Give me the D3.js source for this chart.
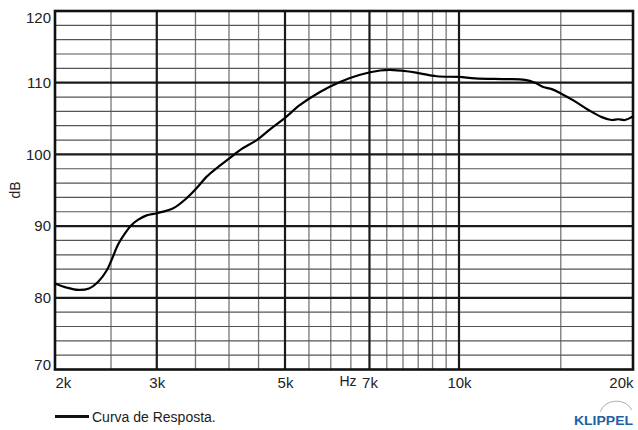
<!DOCTYPE html>
<html>
<head>
<meta charset="utf-8">
<script src="https://cdn.jsdelivr.net/npm/d3@7"></script>
<style>
  body { margin: 0; background: #fff; }
  text { font-family: "Liberation Sans", Arial, sans-serif; fill: #222; }
</style>
</head>
<body>
<script>
// frequency response data (Hz / dB)
var freqs = [2000, 2100, 2194, 2290, 2380, 2457, 2500, 2574, 2643, 2716, 2787, 2881, 3000, 3204,
    3380, 3517, 3660, 3810, 4000, 4179, 4467, 4710, 5000, 5309, 5748, 6224, 6744, 7301,
    7597, 8118, 8560, 9148, 10000, 10662, 12009, 13006, 13535, 13990, 14470, 15000, 15876,
    16747, 17660, 18370, 18850, 19370, 20000];
var spl = [82.0, 81.4, 81.1, 81.3, 82.3, 83.8, 85.1, 87.5, 89.0, 90.2, 90.9, 91.5, 91.8, 92.5,
    93.9, 95.3, 96.9, 98.1, 99.4, 100.6, 102.0, 103.5, 105.1, 106.9, 108.7, 110.1, 111.1, 111.7,
    111.8, 111.6, 111.3, 110.9, 110.8, 110.6, 110.5, 110.4, 110.0, 109.4, 109.1, 108.5, 107.4,
    106.2, 105.2, 104.8, 104.9, 104.8, 105.3];

// axis ticks and grid lines
var xTicks = [2000, 3000, 5000, 7000, 10000, 20000];
var xTickLabels = ["2k", "3k", "5k", "7k", "10k", "20k"];
var xMajor = [3000, 5000, 7000, 10000];
var xMinor = [2500, 3500, 4000, 4500, 5500, 6000, 6500, 7500, 8000, 8500, 9000, 9500, 15000];
var yTicks = [70, 80, 90, 100, 110, 120];
var yMajor = [80, 90, 100, 110];
var yMinor = [72, 74, 76, 78, 82, 84, 86, 88, 92, 94, 96, 98, 102, 104, 106, 108, 112, 114, 116, 118];

var w = 638, h = 430;
var svg = d3.select("body").append("svg")
    .attr("width", w)
    .attr("height", h);

// log frequency scale and linear dB scale
var x = d3.scaleLog().domain([2000, 20000]).range([55, 633]);
var y = d3.scaleLinear().domain([70, 120]).range([369.5, 11]);

var grid = svg.append("g");

// minor grid (gray)
grid.selectAll(".vmin").data(xMinor).enter().append("line")
    .attr("x1", function(d){ return x(d); })
    .attr("x2", function(d){ return x(d); })
    .attr("y1", y(120)).attr("y2", y(70))
    .style("stroke", "#777").style("stroke-width", 1.3);
grid.selectAll(".hmin").data(yMinor).enter().append("line")
    .attr("x1", x(2000)).attr("x2", x(20000))
    .attr("y1", function(d){ return y(d); })
    .attr("y2", function(d){ return y(d); })
    .style("stroke", "#555").style("stroke-width", 1.2);

// major grid (dark)
grid.selectAll(".vmaj").data(xMajor).enter().append("line")
    .attr("x1", function(d){ return x(d); })
    .attr("x2", function(d){ return x(d); })
    .attr("y1", y(120)).attr("y2", y(70))
    .style("stroke", "#1a1a1a").style("stroke-width", 2.2);
grid.selectAll(".hmaj").data(yMajor).enter().append("line")
    .attr("x1", x(2000)).attr("x2", x(20000))
    .attr("y1", function(d){ return y(d); })
    .attr("y2", function(d){ return y(d); })
    .style("stroke", "#1a1a1a").style("stroke-width", 2.2);

// frame
svg.append("rect")
    .attr("x", x(2000)).attr("y", y(120))
    .attr("width", x(20000) - x(2000))
    .attr("height", y(70) - y(120))
    .style("fill", "none")
    .style("stroke", "#111")
    .style("stroke-width", 2.6);

// response curve
var pts = freqs.map(function(f, i){ return [f, spl[i]]; });
var line = d3.line()
    .x(function(d){ return x(d[0]); })
    .y(function(d){ return y(d[1]); })
    .curve(d3.curveCatmullRom.alpha(0.5));
svg.append("path")
    .datum(pts)
    .attr("d", line)
    .style("fill", "none")
    .style("stroke", "#000")
    .style("stroke-width", 2.2);

// x axis labels
var xAxis = svg.append("g")
    .attr("transform", "translate(0," + y(70) + ")")
    .call(d3.axisBottom(x).tickValues(xTicks).tickSize(0).tickPadding(8)
        .tickFormat(function(d, i){ return xTickLabels[i]; }));
xAxis.select(".domain").remove();
xAxis.selectAll("text")
    .style("font-size", "15px")
    .attr("text-anchor", function(d, i){
        return i === 0 ? "start" : (i === xTicks.length - 1 ? "end" : "middle");
    });

// y axis labels
var yAxis = svg.append("g")
    .attr("transform", "translate(" + x(2000) + ",0)")
    .call(d3.axisLeft(y).tickValues(yTicks).tickSize(0).tickPadding(4));
yAxis.select(".domain").remove();
yAxis.selectAll("text")
    .style("font-size", "15px")
    .attr("y", function(d){ return d === 120 ? 6.5 : (d === 70 ? -4.5 : 0); });

// axis titles
svg.append("text")
    .attr("transform", "translate(20,190) rotate(-90)")
    .attr("text-anchor", "middle")
    .style("font-size", "14px")
    .text("dB");
svg.append("text")
    .attr("x", 348).attr("y", 386)
    .attr("text-anchor", "middle")
    .style("font-size", "14px")
    .text("Hz");

// legend
svg.append("line")
    .attr("x1", 55).attr("x2", 89)
    .attr("y1", 416.5).attr("y2", 416.5)
    .style("stroke", "#111").style("stroke-width", 3);
svg.append("text")
    .attr("x", 92).attr("y", 421.5)
    .style("font-size", "14px")
    .text("Curva de Resposta.");

// logo
svg.append("path")
    .attr("d", "M600,412 A18,18 0 0 1 632,410")
    .style("fill", "none")
    .style("stroke", "#999")
    .style("stroke-width", 0.8);
svg.append("text")
    .attr("x", 574).attr("y", 424.5)
    .attr("textLength", 59)
    .attr("lengthAdjust", "spacingAndGlyphs")
    .style("font-size", "13.5px")
    .style("font-weight", "bold")
    .style("fill", "#1f5fa6")
    .text("KLIPPEL");
</script>
</body>
</html>
